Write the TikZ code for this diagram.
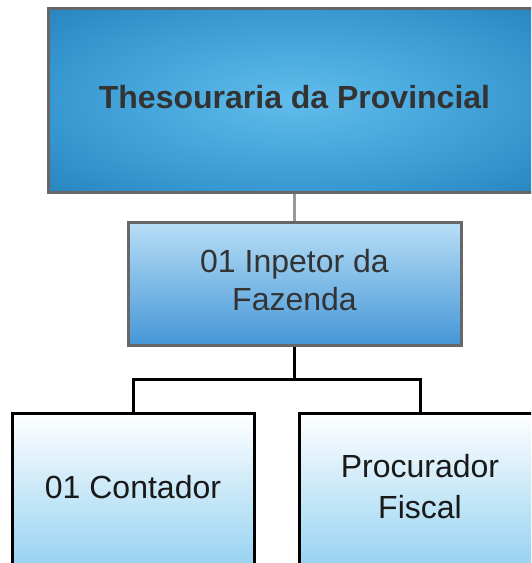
\documentclass[tikz,border=0pt]{standalone}
\usepackage{fontspec}
\setmainfont{Liberation Sans}
\definecolor{insptop}{HTML}{B8DEF6}
\definecolor{inspbot}{HTML}{4597D8}
\definecolor{leafbot}{HTML}{84CBEF}
\definecolor{graybord}{HTML}{676767}
\definecolor{txtgray}{HTML}{333333}
\pgfdeclareradialshading{headshade}{\pgfpoint{0bp}{0bp}}{%
  rgb(0bp)=(0.38,0.74,0.92);
  rgb(16bp)=(0.27,0.65,0.86);
  rgb(36bp)=(0.15,0.52,0.75);
  rgb(50bp)=(0.12,0.47,0.70);
  rgb(70bp)=(0.11,0.45,0.68)}
\begin{document}
\begin{tikzpicture}[x=1pt,y=-1pt,
  headbox/.style={draw=graybord,line width=3pt,shading=headshade,rectangle,inner sep=0pt,minimum width=493pt,minimum height=184pt},
  midbox/.style={draw=graybord,line width=3pt,top color=insptop,bottom color=inspbot,rectangle,inner sep=0pt,minimum width=333pt,minimum height=123pt},
  leafbox/.style={draw=black,line width=3pt,top color=white,bottom color=leafbot,rectangle,inner sep=0pt,minimum width=242pt,minimum height=180pt},
  lbl/.style={font=\fontsize{32}{38}\selectfont,align=center,inner sep=0pt},
  grayline/.style={draw=gray!80,line width=2.5pt},
  blackline/.style={draw=black,line width=3pt}]
\useasboundingbox (0,0) rectangle (531,563);
\clip (0,0) rectangle (531,563);
\node[headbox] (top) at (294.5,100) {};
\node[lbl,font=\fontsize{32}{38}\selectfont\bfseries,text=txtgray] (toptxt) at (294.5,97) {Thesouraria da Provincial};
\node[midbox] (insp) at (294.5,283.5) {};
\node[lbl,text=txtgray] (insptxt) at (294.5,280) {01 Inpetor da\\Fazenda};
\node[leafbox] (cont) at (133,503) {};
\node[lbl,text=black!90] (conttxt) at (133,487) {01 Contador};
\node[leafbox] (proc) at (420,503) {};
\node[lbl,font=\fontsize{32}{41}\selectfont,text=black!90] (proctxt) at (420,486.5) {Procurador\\Fiscal};
\coordinate (j) at (294.5,379);
\draw[grayline] (top.south) -- (insp.north);
\draw[blackline] (insp.south) -- (j);
\draw[blackline] (cont.north) |- (j) -| (proc.north);
\end{tikzpicture}
\end{document}
